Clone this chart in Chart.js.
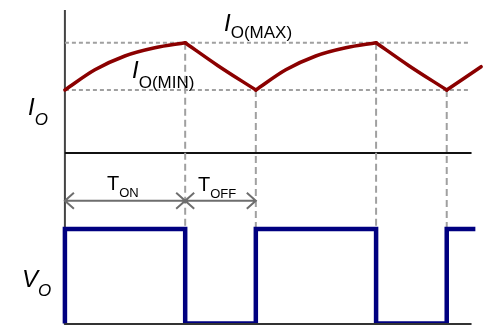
<!DOCTYPE html>
<html>
<head>
<meta charset="utf-8">
<script src="https://cdn.jsdelivr.net/npm/chart.js@4"></script>
<style>
  body { margin: 0; background: #fff; }
  canvas { display: block; }
</style>
</head>
<body>
<canvas id="myChart" width="483" height="325"></canvas>
<script>
"use strict";

// time in units of one switching period
const currentTime = [0, 0.157, 0.314, 0.471, 0.63, 0.8, 1.0, 1.157, 1.314, 1.471, 1.63, 1.8, 2.0, 2.18];
// output current (I_O(MIN) = 1, I_O(MAX) = 1.75)
const currentValue = [1.0, 1.32, 1.54, 1.67, 1.75, 1.39, 1.0, 1.32, 1.54, 1.67, 1.75, 1.39, 1.0, 1.37];
// switching instants where the current curve has a corner
const cornerIndex = [4, 6, 10, 12];

// output voltage square wave (1 = on, 0 = off)
const voltageTime = [0, 0, 0.63, 1.0, 1.63, 2.0, 2.15];
const voltageValue = [0, 1, 0, 1, 0, 1, 1];

const iMax = 1.75;
const iMin = 1.0;
const guideEnd = 2.12;
const axisEnd = 2.13;
const arrowLevel = 1.3; // on the voltage scale

// split the current trace at the corners so each piece is smoothed alone
const currentSegments = [];
let start = 0;
cornerIndex.concat([currentTime.length - 1]).forEach((end) => {
  const pts = [];
  for (let i = start; i <= end; i++) {
    pts.push({ x: currentTime[i], y: currentValue[i] });
  }
  currentSegments.push(pts);
  start = end;
});

const redLine = currentSegments.map((pts) => ({
  data: pts,
  yAxisID: "yI",
  borderColor: "#8b0000",
  borderWidth: 3.5,
  pointRadius: 0,
  cubicInterpolationMode: "monotone",
  borderCapStyle: "round",
  order: 0,
}));

const guide = (level) => ({
  data: [
    { x: 0, y: level },
    { x: guideEnd, y: level },
  ],
  yAxisID: "yI",
  borderColor: "#a0a0a0",
  borderWidth: 2,
  borderDash: [4, 3],
  pointRadius: 0,
  order: 2,
});

function textSub(ctx, x, y, main, sub, mainFont, subFont, drop) {
  ctx.font = mainFont;
  ctx.fillText(main, x, y);
  const w = ctx.measureText(main).width;
  ctx.font = subFont;
  ctx.fillText(sub, x + w, y + drop);
}

const annotate = {
  id: "annotate",
  beforeDatasetsDraw(chart) {
    const ctx = chart.ctx;
    const x = chart.scales.x;
    const yI = chart.scales.yI;
    const yV = chart.scales.yV;
    const area = chart.chartArea;
    ctx.save();
    ctx.lineCap = "butt";

    // axes
    ctx.strokeStyle = "#444";
    ctx.lineWidth = 2;
    ctx.beginPath();
    ctx.moveTo(x.getPixelForValue(0), yI.getPixelForValue(2.27));
    ctx.lineTo(x.getPixelForValue(0), area.bottom);
    ctx.stroke();
    ctx.strokeStyle = "#111";
    ctx.beginPath();
    ctx.moveTo(x.getPixelForValue(0), yI.getPixelForValue(0));
    ctx.lineTo(x.getPixelForValue(axisEnd), yI.getPixelForValue(0));
    ctx.stroke();

    // vertical dashed guides
    ctx.strokeStyle = "#a0a0a0";
    ctx.setLineDash([7, 4]);
    cornerIndex.forEach((i) => {
      const px = x.getPixelForValue(currentTime[i]);
      ctx.beginPath();
      ctx.moveTo(px, yI.getPixelForValue(currentValue[i]));
      ctx.lineTo(px, yV.getPixelForValue(1));
      ctx.stroke();
    });
    ctx.setLineDash([]);

    // T_ON / T_OFF arrows
    const ay = yV.getPixelForValue(arrowLevel);
    const a0 = x.getPixelForValue(0);
    const a1 = x.getPixelForValue(currentTime[cornerIndex[0]]);
    const a2 = x.getPixelForValue(currentTime[cornerIndex[1]]);
    ctx.strokeStyle = "#6e6e6e";
    ctx.lineWidth = 2;
    ctx.beginPath();
    ctx.moveTo(a0, ay);
    ctx.lineTo(a2, ay);
    const head = (tip, dir) => {
      ctx.moveTo(tip - dir * 9, ay - 8);
      ctx.lineTo(tip, ay);
      ctx.lineTo(tip - dir * 9, ay + 8);
    };
    head(a0, -1);
    head(a1, 1);
    head(a1, -1);
    head(a2, 1);
    ctx.stroke();
    ctx.restore();
  },
  afterDatasetsDraw(chart) {
    const ctx = chart.ctx;
    const x = chart.scales.x;
    const area = chart.chartArea;
    ctx.save();
    // bottom axis
    ctx.strokeStyle = "#333";
    ctx.lineWidth = 2;
    ctx.beginPath();
    ctx.moveTo(x.getPixelForValue(0), area.bottom - 1);
    ctx.lineTo(x.getPixelForValue(axisEnd), area.bottom - 1);
    ctx.stroke();

    // labels
    ctx.fillStyle = "#000";
    ctx.textBaseline = "alphabetic";
    const big = "italic 24px 'Liberation Sans', Arial, sans-serif";
    const subI = "italic 17px 'Liberation Sans', Arial, sans-serif";
    const subR = "17px 'Liberation Sans', Arial, sans-serif";
    textSub(ctx, 28, 115, "I", "O", big, subI, 10);
    textSub(ctx, 22, 287, "V", "O", big, subI, 9);
    textSub(ctx, 224, 31, "I", "O(MAX)", big, subR, 7);
    textSub(ctx, 132, 78, "I", "O(MIN)", big, subR, 10);
    const tFont = "20px 'Liberation Sans', Arial, sans-serif";
    const tSub = "13px 'Liberation Sans', Arial, sans-serif";
    textSub(ctx, 107, 190, "T", "ON", tFont, tSub, 7);
    textSub(ctx, 198, 191, "T", "OFF", tFont, tSub, 7);
    ctx.restore();
  },
};

new Chart("myChart", {
  type: "line",
  data: {
    datasets: [
      ...redLine,
      {
        data: voltageTime.map((t, i) => ({ x: t, y: voltageValue[i] })),
        yAxisID: "yV",
        borderColor: "#000080",
        borderWidth: 4.5,
        pointRadius: 0,
        stepped: "before",
        borderJoinStyle: "miter",
        order: 1,
      },
      guide(iMax),
      guide(iMin),
    ],
  },
  options: {
    responsive: false,
    devicePixelRatio: 1,
    animation: false,
    layout: { padding: 0 },
    plugins: {
      legend: { display: false },
      tooltip: { enabled: false },
    },
    scales: {
      x: { type: "linear", display: false, min: -0.34, max: 2.19 },
      yI: { type: "linear", display: false, min: -2.73, max: 2.4286 },
      yV: { type: "linear", display: false, min: -0.0159, max: 3.423 },
    },
  },
  plugins: [annotate],
});
</script>
</body>
</html>
